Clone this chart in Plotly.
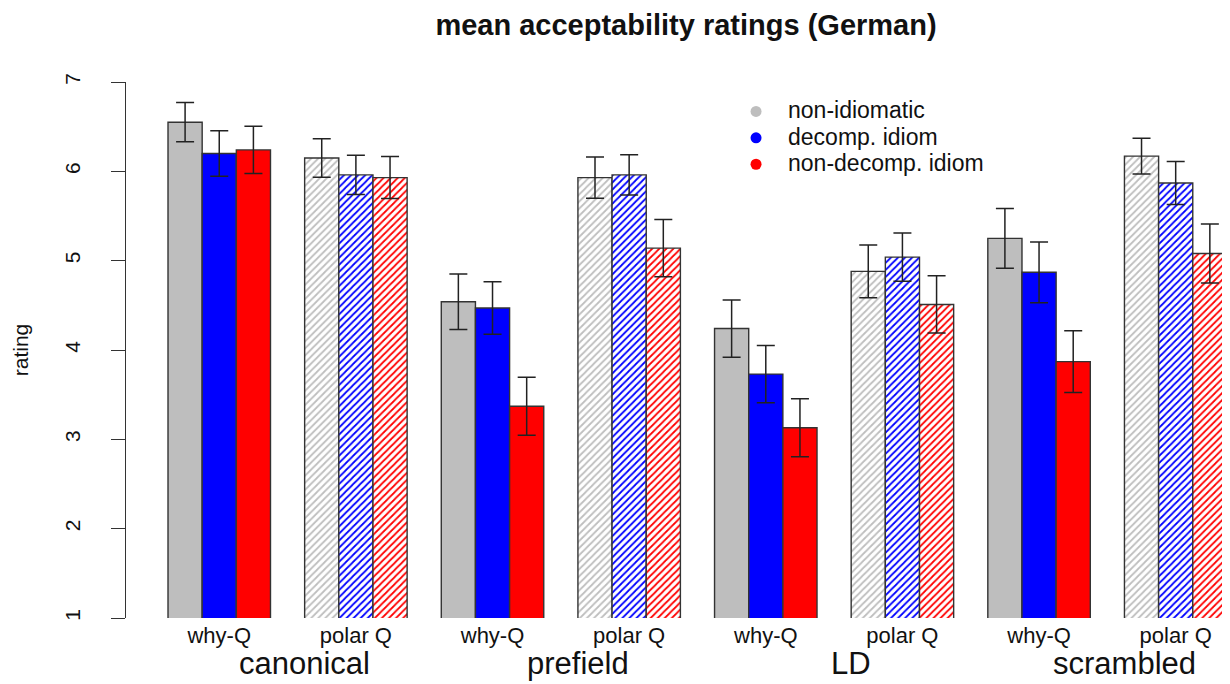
import plotly.graph_objects as go

# ---- data ----
word_orders = ["canonical", "prefield", "LD", "scrambled"]
question_types = ["why-Q", "polar Q"]
conditions = ["non-idiomatic", "decomp. idiom", "non-decomp. idiom"]

# means per subgroup, order: canonical why-Q, canonical polar Q, prefield why-Q, ...
mean_non_idiomatic = [6.55, 6.15, 4.54, 5.93, 4.24, 4.88, 5.25, 6.17]
mean_decomp = [6.20, 5.96, 4.47, 5.96, 3.73, 5.04, 4.87, 5.87]
mean_nondecomp = [6.24, 5.93, 3.37, 5.14, 3.13, 4.51, 3.87, 5.08]

se_non_idiomatic = [0.22, 0.215, 0.31, 0.23, 0.32, 0.295, 0.335, 0.20]
se_decomp = [0.255, 0.22, 0.295, 0.225, 0.32, 0.27, 0.34, 0.24]
se_nondecomp = [0.265, 0.235, 0.325, 0.32, 0.325, 0.32, 0.345, 0.33]

y_ticks = [1, 2, 3, 4, 5, 6, 7]

# ---- styling ----
colors = ["#BEBEBE", "#0000FF", "#FF0000"]
FONT = "Liberation Sans, Arial, sans-serif"

means = [mean_non_idiomatic, mean_decomp, mean_nondecomp]
ses = [se_non_idiomatic, se_decomp, se_nondecomp]
n_sub = len(word_orders) * len(question_types)
group_span = len(conditions) + 1  # bars + one space

fig = go.Figure()
for j, (cond, col, m, s) in enumerate(zip(conditions, colors, means, ses)):
    xs = [group_span * k + 1.5 + j for k in range(n_sub)]
    shapes = ["" if k % 2 == 0 else "/" for k in range(n_sub)]
    fig.add_trace(go.Bar(
        x=xs, y=m, width=1, name=cond, showlegend=False,
        marker=dict(color=col, line=dict(color="#333333", width=1.4),
                    pattern=dict(shape=shapes, fgcolor=col, bgcolor="white",
                                 size=5, solidity=0.35, fillmode="replace")),
        error_y=dict(type="data", array=s, visible=True, width=9,
                     thickness=1.5, color="#222222"),
    ))

# legend entries (circle markers)
for cond, col in zip(conditions, colors):
    fig.add_trace(go.Scatter(
        x=[None], y=[None], mode="markers",
        name='<span style="font-size:23px">%s</span>' % cond,
        marker=dict(color=col, size=11, symbol="circle")))

# x tick labels (question types) at subgroup centres
tick_x = [group_span * k + 2.5 for k in range(n_sub)]
tick_text = [question_types[k % 2] for k in range(n_sub)]

# word-order labels
for i, wo in enumerate(word_orders):
    fig.add_annotation(x=group_span * (2 * i + 1) + 1, xref="x",
                       y=-0.0858, yref="paper", yanchor="middle",
                       text=wo, showarrow=False,
                       font=dict(family=FONT, size=31, color="#111"))

fig.update_layout(
    width=1230, height=684,
    margin=dict(l=118, r=8, t=74, b=74),
    paper_bgcolor="white", plot_bgcolor="white",
    barmode="overlay",
    font=dict(family=FONT, color="#111"),
    title=dict(text="<b>mean acceptability ratings (German)</b>",
               x=678 / 1230, xref="container", xanchor="center",
               y=1 - 17 / 684, yref="container", yanchor="middle",
               font=dict(family=FONT, size=29, color="#111")),
    xaxis=dict(range=[-0.23, 32.09], tickvals=tick_x, ticktext=tick_text,
               automargin=False,
               showgrid=False, zeroline=False, showline=False, ticks="",
               ticklabelstandoff=2,
               tickfont=dict(family=FONT, size=22, color="#111")),
    yaxis=dict(range=[1, 7], tickvals=y_ticks, showgrid=False, zeroline=False,
               automargin=False,
               showline=True, linecolor="#333", linewidth=1.2,
               ticks="outside", ticklen=14, tickcolor="#333", tickwidth=1.2,
               tickangle=-90, ticklabelstandoff=23,
               tickfont=dict(family=FONT, size=21, color="#111")),
    legend=dict(x=0.5417, y=0.979, xanchor="left", yanchor="top",
                bgcolor="rgba(0,0,0,0)", itemwidth=54,
                font=dict(family=FONT, size=18, color="#111")),
)
fig.update_yaxes(title=dict(text="rating", standoff=26,
                            font=dict(family=FONT, size=21, color="#111")))

fig.write_html("out.html")
